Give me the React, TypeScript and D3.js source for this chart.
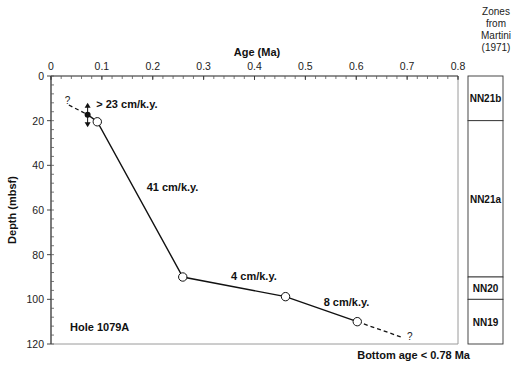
import * as d3 from "d3"

// age model control points (Ma, mbsf)
const ages = [0.091, 0.259, 0.461, 0.602]
const depths = [20.5, 90, 98.8, 110]
const datumAge = 0.072
const datumDepth = 17.3
const datumRange = [12, 23]
const topExtAge = 0.035
const topExtDepth = 13
const botExtAge = 0.69
const botExtDepth = 117

const ageTicks = [0, 0.1, 0.2, 0.3, 0.4, 0.5, 0.6, 0.7, 0.8]
const depthTicks = [0, 20, 40, 60, 80, 100, 120]

const rateLabels = ["> 23 cm/k.y.", "41 cm/k.y.", "4 cm/k.y.", "8 cm/k.y."]
const rateAges = [0.089, 0.188, 0.354, 0.536]
const rateDepths = [12.5, 49.7, 89.6, 101.2]

const zoneNames = ["NN21b", "NN21a", "NN20", "NN19"]
const zoneTops = [0, 20, 90, 100]
const zoneBottoms = [20, 90, 100, 120]

const W = 520
const H = 367
const font = "Liberation Sans, Arial, Helvetica, sans-serif"

export default function App() {
  const x = d3.scaleLinear().domain([0, 0.8]).range([51, 458])
  const y = d3.scaleLinear().domain([0, 120]).range([76, 344])

  const line = d3
    .line<[number, number]>()
    .x((d) => x(d[0]))
    .y((d) => y(d[1]))

  const solid: [number, number][] = [[datumAge, datumDepth], ...ages.map((a, i) => [a, depths[i]] as [number, number])]
  const dashTop: [number, number][] = [[topExtAge, topExtDepth], [datumAge, datumDepth]]
  const dashBot: [number, number][] = [[ages[ages.length - 1], depths[depths.length - 1]], [botExtAge, botExtDepth]]

  const minorAge = d3.range(0, 0.8001, 0.02)
  const minorDepth = d3.range(0, 120.001, 4)

  const ax0 = datumAge
  const yA = y(datumRange[0])
  const yB = y(datumRange[1])

  return (
    <svg width={W} height={H} style={{ position: "absolute", left: 0, top: 0, background: "#fff" }} fontFamily={font}>
      {/* frame */}
      <line x1={x(0.8)} x2={x(0.8)} y1={y(0)} y2={y(120)} stroke="#9a9a9a" strokeWidth={1} />
      <line x1={x(0)} x2={x(0.8)} y1={y(120)} y2={y(120)} stroke="#9a9a9a" strokeWidth={1} />
      <line x1={x(0)} x2={x(0.8)} y1={y(0)} y2={y(0)} stroke="#222" strokeWidth={1.2} />
      <line x1={x(0)} x2={x(0)} y1={y(0)} y2={y(120)} stroke="#222" strokeWidth={1.2} />

      {/* top axis */}
      {minorAge.map((a, i) => (
        <line key={"ma" + i} x1={x(a)} x2={x(a)} y1={y(0)} y2={y(0) + 3} stroke="#555" strokeWidth={0.8} />
      ))}
      {ageTicks.map((a) => (
        <g key={"a" + a}>
          <line x1={x(a)} x2={x(a)} y1={y(0)} y2={y(0) + 4} stroke="#333" strokeWidth={0.9} />
          <text x={x(a)} y={70} textAnchor="middle" fontSize={10.5} fill="#222">
            {a === 0 ? "0" : d3.format(".1f")(a)}
          </text>
        </g>
      ))}
      <text x={257} y={56} textAnchor="middle" fontSize={11} fontWeight="bold" fill="#111">
        Age (Ma)
      </text>

      {/* left axis */}
      {minorDepth.map((d, i) => (
        <line key={"md" + i} x1={x(0)} x2={x(0) + 3} y1={y(d)} y2={y(d)} stroke="#555" strokeWidth={0.8} />
      ))}
      {depthTicks.map((d) => (
        <g key={"d" + d}>
          <line x1={x(0) - 4} x2={x(0)} y1={y(d)} y2={y(d)} stroke="#333" strokeWidth={0.9} />
          <text x={x(0) - 7} y={y(d) + 4} textAnchor="end" fontSize={10.5} fill="#222">
            {d}
          </text>
        </g>
      ))}
      <text
        transform={`translate(16, ${(y(0) + y(120)) / 2}) rotate(-90)`}
        textAnchor="middle"
        fontSize={11}
        fontWeight="bold"
        fill="#111"
      >
        Depth (mbsf)
      </text>

      {/* age model */}
      <path d={line(dashTop) || ""} fill="none" stroke="#111" strokeWidth={1.3} strokeDasharray="4,3" />
      <path d={line(dashBot) || ""} fill="none" stroke="#111" strokeWidth={1.3} strokeDasharray="4,3" />
      <path d={line(solid) || ""} fill="none" stroke="#111" strokeWidth={1.4} />
      <text x={x(topExtAge) - 4} y={y(topExtDepth) - 1} fontSize={10} fill="#222">
        ?
      </text>
      <text x={x(botExtAge) + 5} y={y(botExtDepth) + 3} fontSize={10} fill="#222">
        ?
      </text>

      {/* datum with uncertainty arrow */}
      <line x1={x(ax0)} x2={x(ax0)} y1={yA + 3} y2={yB - 3} stroke="#111" strokeWidth={1} />
      <path d={`M${x(ax0)},${yA} l-3,5 l6,0 z`} fill="#111" />
      <path d={`M${x(ax0)},${yB} l-3,-5 l6,0 z`} fill="#111" />
      <circle cx={x(datumAge)} cy={y(datumDepth)} r={3} fill="#111" />

      {ages.map((a, i) => (
        <circle key={"p" + i} cx={x(a)} cy={y(depths[i])} r={4.2} fill="#fff" stroke="#111" strokeWidth={1} />
      ))}

      {rateLabels.map((t, i) => (
        <text key={t} x={x(rateAges[i])} y={y(rateDepths[i]) + 4} fontSize={11} fontWeight="bold" fill="#111">
          {t}
        </text>
      ))}
      <text x={70} y={331} fontSize={11} fontWeight="bold" fill="#111">
        Hole 1079A
      </text>
      <text x={470} y={359} textAnchor="end" fontSize={11} fontWeight="bold" fill="#111">
        {"Bottom age < 0.78 Ma"}
      </text>

      {/* nannofossil zones */}
      {["Zones", "from", "Martini", "(1971)"].map((t, i) => (
        <text key={t} x={496} y={15 + i * 12} textAnchor="middle" fontSize={10} fill="#222">
          {t}
        </text>
      ))}
      {zoneNames.map((z, i) => (
        <g key={z}>
          <rect
            x={468}
            width={35}
            y={y(zoneTops[i])}
            height={y(zoneBottoms[i]) - y(zoneTops[i])}
            fill="#fff"
            stroke="#333"
            strokeWidth={0.9}
          />
          <text
            x={485.5}
            y={(y(zoneTops[i]) + y(zoneBottoms[i])) / 2 + 4}
            textAnchor="middle"
            fontSize={10}
            fontWeight="bold"
            fill="#111"
          >
            {z}
          </text>
        </g>
      ))}
    </svg>
  )
}
